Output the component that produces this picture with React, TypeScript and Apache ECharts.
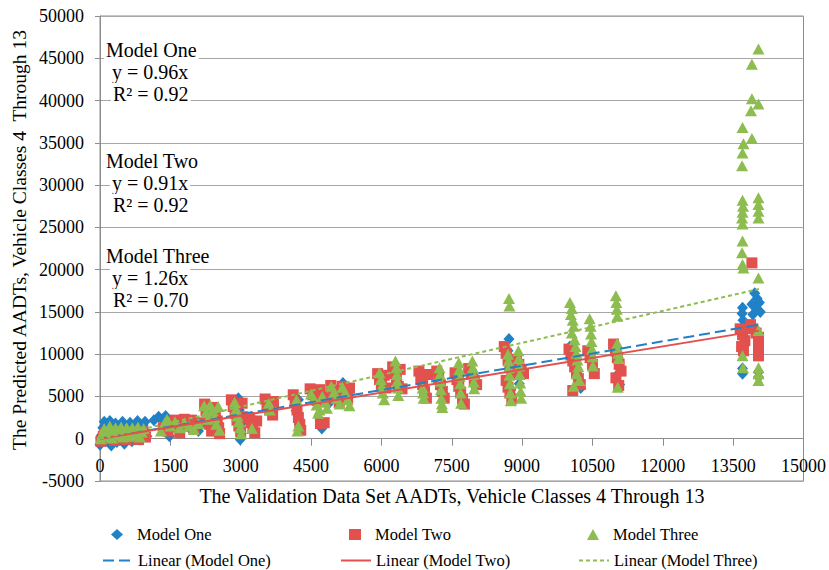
import React, { useEffect, useRef } from "react";
import * as echarts from "echarts";

// ---------- data ----------
const xTickRange = [0, 15000, 1500];
const yTickRange = [-5000, 50000, 5000];

const seriesNames = ["Model One", "Model Two", "Model Three"];
const trendNames = ["Linear (Model One)", "Linear (Model Two)", "Linear (Model Three)"];
const trendSlopes = [0.96, 0.91, 1.26];
const trendXRange = [0, 14050];

const annotationTitles = ["Model One", "Model Two", "Model Three"];
const annotationEquations = ["y = 0.96x", "y = 0.91x", "y = 1.26x"];
const annotationR2 = ["R² = 0.92", "R² = 0.92", "R² = 0.70"];

const xTitle = "The Validation Data Set AADTs, Vehicle Classes 4 Through 13";
const yTitle = "The Predicted AADTs, Vehicle Classes 4  Through 13";

const modelOne: [number, number][] = [
  [0, -700], [30, 400], [60, 1300], [90, 2000], [120, -300], [150, 800], [180, 1600], [210, 2100], [240, -800], [270, 200],
  [300, 1100], [330, 1800], [360, -400], [400, 600], [440, 1500], [480, 2000], [520, -600], [560, 400], [600, 1200], [640, 1900],
  [680, -300], [720, 700], [760, 1500], [800, 2100], [840, -100], [880, 800], [920, 1600], [960, 2000], [1000, 300],
  [1150, 2200], [1250, 2600], [1330, 2300], [1400, 2700], [1420, 1500], [1480, 300],
  [1750, 1900], [1900, 1300], [2100, 900], [2200, 1800], [2350, 3000], [2450, 2200],
  [2950, 4800], [2970, 3400], [2990, -100], [3010, 1800], [3220, 2600], [3250, 1500],
  [3560, 4300], [3640, 3200],
  [4180, 3300], [4230, 4600], [4250, 1700],
  [4520, 5400], [4600, 4200], [4730, 1200], [4800, 5000], [4900, 4300], [5050, 5700], [5180, 6600], [5280, 5200],
  [5980, 6900], [6010, 5900], [6280, 7900], [6350, 6300],
  [6880, 6600], [7250, 6900], [7650, 7300], [7950, 7600],
  [8720, 11800], [8700, 10400], [8740, 9000], [8760, 5800], [8930, 8400], [8940, 6500],
  [10020, 10900], [10080, 10000], [10120, 9000], [10150, 8000], [10200, 7200], [10250, 6000],
  [10450, 9400], [10500, 8200],
  [11000, 9900], [11050, 7700], [11080, 6400],
  [13700, 15500], [13690, 14800], [13710, 14000], [13700, 13200], [13720, 12500], [13700, 8300], [13700, 7700],
  [13960, 17200], [14010, 16600], [14060, 16100], [13900, 15900], [14000, 15400], [14080, 15000], [13920, 14700], [14040, 7300], [14040, 7900],
];

const modelTwo: [number, number][] = [
  [20, -300], [70, 300], [120, 700], [170, 0], [220, 500], [270, 900], [320, -200], [370, 400], [420, 800], [470, 100],
  [520, 600], [570, -100], [620, 400], [670, 800], [720, 200], [770, 600], [820, -100], [870, 400], [920, 800], [970, 200],
  [1350, 1300], [1450, 900], [1600, 2200], [1650, 1400], [1700, 700], [1800, 2300], [1850, 1500], [1950, 2200], [2000, 1300], [2100, 1900],
  [2230, 4100], [2260, 3300], [2300, 2500], [2340, 1700], [2380, 900], [2420, 3700], [2460, 2900], [2500, 2100], [2530, 1300], [2550, 600],
  [2800, 4600], [2840, 3800], [2880, 3000], [2920, 2200], [2960, 1500], [3000, 800], [3030, 4200], [3050, 2600],
  [3180, 2500], [3220, 1900], [3260, 1300], [3300, 700], [3340, 2100],
  [3520, 4700], [3560, 4000], [3620, 3400], [3680, 2800], [3700, 4400],
  [4120, 5200], [4160, 4300], [4200, 3400], [4230, 2500], [4260, 1700], [4280, 1000],
  [4480, 5900], [4540, 5200], [4600, 4600], [4680, 5800], [4740, 5000], [4800, 4500], [4700, 1800], [4780, 1900],
  [4920, 6300], [4980, 5600], [5040, 4900], [5100, 4300], [5160, 6200], [5220, 5500], [5280, 4800], [5320, 6000],
  [5920, 7700], [5960, 7000], [6000, 6300], [6060, 7500], [6100, 6000],
  [6240, 8500], [6280, 7700], [6320, 6900], [6360, 6200], [6400, 8200], [6440, 5900],
  [6800, 8000], [6840, 7200], [6880, 6400], [6920, 5600], [6960, 4800], [6990, 7600],
  [7180, 8000], [7220, 7200], [7260, 6400], [7300, 5600], [7340, 4800],
  [7570, 7800], [7610, 7000], [7650, 6200], [7690, 5500], [7730, 4700], [7770, 4100],
  [7860, 8300], [7920, 7600], [7980, 6900], [8030, 6400],
  [8620, 10900], [8660, 10100], [8700, 9300], [8740, 8500], [8780, 7700], [8660, 6900], [8700, 6100], [8740, 5400], [8780, 4700],
  [8880, 9400], [8930, 8800], [8980, 8200], [9030, 7700],
  [10000, 10600], [10040, 9900], [10080, 9200], [10120, 8500], [10160, 7800], [10200, 7100], [10240, 6400], [10080, 5700],
  [10400, 10400], [10450, 9600], [10500, 8800], [10540, 7700],
  [10950, 11200], [10990, 10400], [11030, 9600], [11070, 8800], [11110, 8000], [11000, 7200], [11060, 6300],
  [13650, 13000], [13700, 12300], [13750, 11600], [13680, 10900], [13720, 10400],
  [13900, 20800], [13870, 13500], [13920, 13000], [13990, 12500], [14040, 12000], [14040, 11200], [14040, 10500], [14040, 9800],
];

const modelThree: [number, number][] = [
  [10, 0], [50, 600], [90, 1200], [130, 300], [170, 900], [210, 1500], [250, 100], [290, 700], [330, 1300], [370, 400],
  [410, 1000], [450, 1400], [490, 200], [530, 800], [570, 1300], [610, 300], [650, 900], [690, 1300], [730, 400], [770, 1000],
  [810, 1400], [850, 200], [890, 800], [930, 1200],
  [1300, 900], [1380, 1900], [1430, 2300], [1500, 1500], [1600, 2000], [1700, 1300], [1800, 1900], [1900, 1500], [2000, 1100], [2100, 1800],
  [2220, 3900], [2260, 3100], [2300, 2300], [2350, 4000], [2400, 3300], [2440, 2500], [2480, 1700], [2520, 3800], [2550, 1000],
  [2870, 4300], [2900, 3500], [2930, 2700], [2960, 2000], [2990, 1300], [3010, 600],
  [3240, 1200],
  [3600, 4200], [3620, 3400],
  [4190, 4600], [4210, 900], [4230, 1500],
  [4500, 5300], [4560, 4700], [4620, 4000], [4680, 3400], [4740, 5000], [4800, 4300], [4840, 3600], [4650, 3000],
  [4930, 6200], [4990, 5500], [5050, 4800], [5110, 4100], [5170, 6100], [5230, 5400], [5280, 4600], [5320, 3900],
  [5960, 7800], [5990, 7000], [6010, 6200], [6030, 5400], [6060, 4600],
  [6300, 9200], [6320, 8400], [6330, 7600], [6340, 6800], [6350, 6000], [6360, 5100],
  [6880, 6000], [6890, 5400], [6900, 4800],
  [7240, 8400], [7250, 7600], [7260, 6800], [7270, 5800], [7280, 4800], [7290, 4100], [7300, 3700],
  [7650, 9000], [7660, 8200], [7670, 7400], [7680, 6500], [7690, 5400], [7700, 4200],
  [7940, 9200], [7950, 8400], [7960, 7600], [7970, 6700], [7980, 5900],
  [8720, 16600], [8730, 15700], [8700, 10000], [8710, 9200], [8720, 8400], [8730, 7500], [8740, 6500], [8750, 5400], [8760, 4500],
  [8920, 10400], [8930, 9500], [8940, 8600], [8950, 7600], [8960, 6600], [8970, 5600], [8980, 4800],
  [10020, 16100], [10060, 15400], [10040, 14700], [10080, 14000], [10100, 13300], [10060, 12500], [10120, 11700], [10140, 10900],
  [10160, 10100], [10180, 9300], [10200, 8500], [10160, 7700], [10220, 6900], [10100, 6200],
  [10440, 14200], [10460, 13300], [10470, 12400], [10480, 11500], [10490, 10600], [10500, 9700], [10510, 8600],
  [11000, 16900], [11010, 16100], [11020, 15300], [11030, 14500], [11030, 11300], [11040, 10700], [11050, 10100], [11060, 9500], [11040, 6100],
  [13700, 36800], [13720, 34900], [13700, 33800], [13690, 32300], [13700, 28200], [13710, 27500], [13700, 26800], [13690, 26100],
  [13700, 25400], [13700, 23400], [13690, 22000], [13700, 20600], [13720, 20200], [13700, 9800], [13710, 8400],
  [14040, 46100], [13900, 44300], [13900, 40200], [14040, 39600], [13880, 38800], [13900, 35500], [14040, 28500], [14040, 27700],
  [14040, 26900], [14040, 26100], [14040, 19000], [14040, 12800], [14040, 8400], [14040, 7700], [14040, 6900],
];

// ---------- styling ----------
const SERIF_FAMILY = "Liberation Serif";
const SERIF = "Liberation Serif, Times New Roman, serif";
const colors = ["#2181C6", "#E2514E", "#8DBC4F"];
const symbols = ["diamond", "rect", "triangle"];
const symbolSizes: any[] = [[11, 12], 11, [12, 11]];
const lineTypes: any[] = [[11, 5], "solid", [4, 3]];
const annotationTops = [50, 161, 256];
const legendCols = [102, 340, 578];
const GRID = { left: 100, right: 24, top: 16, bottom: 89 };

export default function App() {
  const ref = useRef<HTMLDivElement>(null);

  useEffect(() => {
    if (!ref.current) return;
    const chart = echarts.init(ref.current, null, { renderer: "svg" });

    const plotH = 570 - GRID.top - GRID.bottom;
    // distance from plot bottom to the y = 0 line, used to lift the x axis onto zero
    const zeroOffset = (plotH * (0 - yTickRange[0])) / (yTickRange[1] - yTickRange[0]);

    const scatterData = [modelOne, modelTwo, modelThree];
    const scatterSeries = scatterData.map((d, i) => ({
      name: seriesNames[i],
      type: "scatter",
      data: d,
      symbol: symbols[i],
      symbolSize: symbolSizes[i],
      itemStyle: { color: colors[i], opacity: 1 },
      z: 2 + i,
    }));

    const trendSeries = trendSlopes.map((s, i) => ({
      name: trendNames[i],
      type: "line",
      data: [
        [trendXRange[0], trendXRange[0] * s],
        [trendXRange[1], trendXRange[1] * s],
      ],
      symbol: "none",
      showSymbol: false,
      lineStyle: { color: colors[i], width: 2, type: lineTypes[i] },
      itemStyle: { color: colors[i] },
      z: 6,
    }));

    const legends: any[] = [];
    seriesNames.forEach((n, i) => {
      legends.push({
        data: [n],
        left: legendCols[i] + 9,
        top: 526,
        padding: 0,
        itemWidth: 12,
        itemHeight: 11,
        selectedMode: false,
        textStyle: { fontFamily: SERIF_FAMILY, fontSize: 16.5, color: "#000", padding: [0, 0, 0, 9] },
      });
    });
    trendNames.forEach((n, i) => {
      legends.push({
        data: [n],
        left: legendCols[i],
        top: 552,
        padding: 0,
        itemWidth: 30,
        itemHeight: 12,
        selectedMode: false,
        itemStyle: { opacity: 0 },
        textStyle: { fontFamily: SERIF_FAMILY, fontSize: 16.5, color: "#000" },
      });
    });

    const graphics: any[] = [];
    annotationTitles.forEach((t, i) => {
      const top = annotationTops[i];
      const lines = [
        { text: t, x: 104, y: top },
        { text: annotationEquations[i], x: 110, y: top + 22 },
        { text: annotationR2[i], x: 111, y: top + 44 },
      ];
      lines.forEach((l) =>
        graphics.push({
          type: "text",
          x: l.x,
          y: l.y,
          z: 100,
          style: {
            text: l.text,
            font: `20px ${SERIF}`,
            fill: "#000",
            verticalAlign: "middle",
            backgroundColor: "#fff",
            padding: [1, 2],
          },
        })
      );
    });
    graphics.push({
      type: "text",
      x: 452,
      y: 496,
      style: { text: xTitle, font: `20px ${SERIF}`, fill: "#000", align: "center", verticalAlign: "middle" },
    });
    graphics.push({
      type: "text",
      x: 19,
      y: 240,
      rotation: Math.PI / 2,
      style: { text: yTitle, font: `19.5px ${SERIF}`, fill: "#000", align: "center", verticalAlign: "middle" },
    });

    const option: any = {
      animation: false,
      backgroundColor: "#fff",
      textStyle: { fontFamily: SERIF_FAMILY },
      grid: {
        ...GRID,
        show: true,
        borderColor: "#8c8c8c",
        borderWidth: 1,
        backgroundColor: "transparent",
      },
      xAxis: {
        type: "value",
        min: xTickRange[0],
        max: xTickRange[1],
        interval: xTickRange[2],
        offset: -zeroOffset,
        axisLine: { show: true, onZero: false, lineStyle: { color: "#8c8c8c" } },
        axisTick: { show: true, length: 7, lineStyle: { color: "#8c8c8c" } },
        splitLine: { show: false },
        axisLabel: {
          fontFamily: SERIF_FAMILY,
          fontSize: 18,
          color: "#000",
          margin: 18,
          formatter: (v: number) => String(v),
        },
      },
      yAxis: {
        type: "value",
        min: yTickRange[0],
        max: yTickRange[1],
        interval: yTickRange[2],
        axisLine: { show: true, onZero: false, lineStyle: { color: "#8c8c8c" } },
        axisTick: { show: true, length: 5, lineStyle: { color: "#8c8c8c" } },
        splitLine: { show: true, lineStyle: { color: "#a6a6a6", width: 1 } },
        axisLabel: {
          fontFamily: SERIF_FAMILY,
          fontSize: 18,
          color: "#000",
          margin: 16,
          formatter: (v: number) => String(v),
        },
      },
      legend: legends,
      series: [...scatterSeries, ...trendSeries],
      graphic: graphics,
    };

    chart.setOption(option);
    return () => chart.dispose();
  }, []);

  return (
    <div
      ref={ref}
      style={{ position: "absolute", left: 0, top: 0, width: 829, height: 570, background: "#fff" }}
    />
  );
}
